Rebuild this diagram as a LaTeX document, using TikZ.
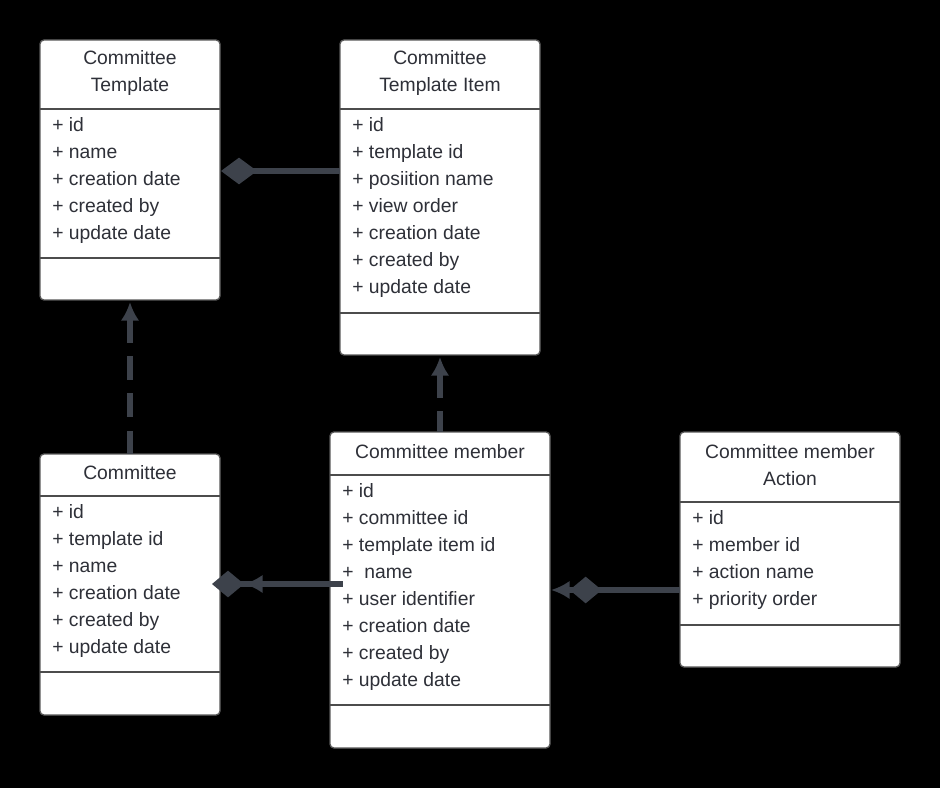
\documentclass[tikz,border=0pt]{standalone}
\usepackage{fontspec}
\setmainfont{Liberation Sans}
\usetikzlibrary{arrows.meta}
\definecolor{ln}{HTML}{3D424B}
\definecolor{txt}{HTML}{2E3038}
\begin{document}
\begin{tikzpicture}[x=0.75pt,y=-0.75pt,
  box/.style={draw=gray!70!black,fill=white,rounded corners=3pt,line width=1pt},
  sep/.style={draw=gray!60!black,line width=0.8pt},
  t/.style={font=\fontsize{14.5}{20}\selectfont,text=txt,align=center,inner sep=0},
  a/.style={font=\fontsize{14.5}{20.25}\selectfont,text=txt,align=left,anchor=north west,inner sep=0},
  con/.style={draw=ln,line width=4pt}]
\fill[black] (0,0) rectangle (940,788);
\useasboundingbox (0,0) rectangle (940,788);
% Committee Template
\draw[box] (40,40) rectangle (220,300);
\path (40,40) coordinate (ctA) (220,300) coordinate (ctB);
\node (ct) at (130,170) {};
\draw[sep] (40,109) -- (220,109) (40,258) -- (220,258);
\node[t] (ctt) at (130,73) {Committee\\Template};
\node[a] (cta) at (52,117) {+ id\\+ name\\+ creation date\\+ created by\\+ update date};
% Committee Template Item
\draw[box] (340,40) rectangle (540,355);
\draw[sep] (340,109) -- (540,109) (340,313) -- (540,313);
\node[t] (ctit) at (440,73) {Committee\\Template Item};
\node[a] (ctia) at (352,117) {+ id\\+ template id\\+ posiition name\\+ view order\\+ creation date\\+ created by\\+ update date};
% Committee
\draw[box] (40,454) rectangle (220,715);
\draw[sep] (40,496) -- (220,496) (40,672) -- (220,672);
\node[t] (cot) at (130,473) {Committee};
\node[a] (coa) at (52,504) {+ id\\+ template id\\+ name\\+ creation date\\+ created by\\+ update date};
% Committee member
\draw[box] (330,432) rectangle (550,748);
\draw[sep] (330,475) -- (550,475) (330,705) -- (550,705);
\node[t] (cmt) at (440,452) {Committee member};
\node[a] (cma) at (342,483) {+ id\\+ committee id\\+ template item id\\+\ \ name\\+ user identifier\\+ creation date\\+ created by\\+ update date};
% Action
\draw[box] (680,432) rectangle (900,667);
\draw[sep] (680,502) -- (900,502) (680,625) -- (900,625);
\node[t] (cat) at (790,465) {Committee member\\Action};
\node[a] (caa) at (692,510) {+ id\\+ member id\\+ action name\\+ priority order};
% connectors
\coordinate (p1) at (221,171); \coordinate (p2) at (340,171);
\draw[con,{Diamond[length=27pt,width=20pt]}-] (p1) -- (p2);
\coordinate (p3) at (130,302); \coordinate (p4) at (130,454);
\draw[con,dash pattern=on 18pt off 10pt,{Latex[length=14pt,width=14pt]}-] (p3) -- (p4);
\coordinate (p5) at (440,357); \coordinate (p6) at (440,432);
\draw[con,dash pattern=on 18pt off 10pt,{Latex[length=14pt,width=14pt]}-] (p5) -- (p6);
\coordinate (p7) at (212,584); \coordinate (p8) at (343,584);
\draw[con,{Diamond[length=24pt,width=20pt]Latex[length=14pt,width=14pt]}-] (p7) -- (p8);
\coordinate (p9) at (551,590); \coordinate (p10) at (680,590);
\draw[con,{Latex[length=14pt,width=14pt]Diamond[length=24pt,width=20pt]}-] (p9) -- (p10);
\end{tikzpicture}
\end{document}
